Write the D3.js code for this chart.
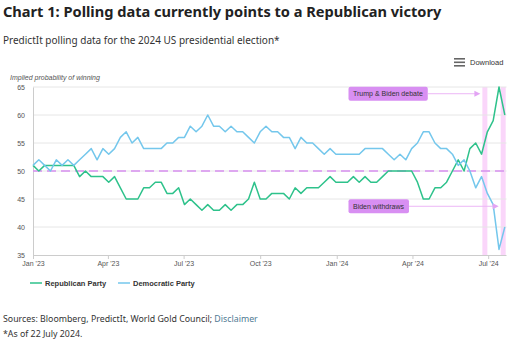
<!DOCTYPE html>
<html>
<head>
<meta charset="utf-8">
<script src="https://cdn.jsdelivr.net/npm/d3@7"></script>
<style>
  html, body { margin: 0; padding: 0; background: #fff; }
  svg { display: block; }
</style>
</head>
<body>
<div id="chart"></div>
<script>
// weekly PredictIt readings, starting first week of Jan 2023
const startDate = "2023-01-01";
const republican = [51,50,51,51,51,51,51,51,49,50, 49,49,49,48,49,47,45,45,45,47,
  47,48,48,46,46,47,44,45,44,43, 44,43,43,44,43,44,44,45,48,45,
  45,46,46,46,45,47,46,47,47,47, 48,49,48,48,48,49,48,49,48,48,
  49,50,50,50,50,50,48,45,45,47, 47,48,50,52,50,54,55,53,57,59, 65,60];
const democratic = [51,52,51,50,52,51,52,51,52,53, 54,52,54,53,54,56,57,55,56,54,
  54,54,54,55,55,56,56,58,57,58, 60,58,58,57,58,57,57,56,55,57,
  58,57,57,56,56,54,56,55,55,54, 53,54,53,53,53,53,53,54,54,54,
  54,53,52,53,52,54,55,57,57,55, 54,54,53,51,52,50,47,49,46,44, 36,40];

const yTicks = [35, 40, 45, 50, 55, 60, 65];
const xTicks = ["2023-01-01", "2023-04-01", "2023-07-01", "2023-10-01", "2024-01-01", "2024-04-01", "2024-07-01"];
const xTickLabels = ["Jan '23", "Apr '23", "Jul '23", "Oct '23", "Jan '24", "Apr '24", "Jul '24"];

const bands = [
  { from: "2024-06-24", to: "2024-06-30", label: "Trump & Biden debate", value: 63.8 },
  { from: "2024-07-16", to: "2024-07-22", label: "Biden withdraws", value: 43.7 },
];

const series = [
  { name: "Republican Party", values: republican, color: "#2ec28b" },
  { name: "Democratic Party", values: democratic, color: "#74c7ec" },
];

const W = 512, H = 344;
const parse = d3.timeParse("%Y-%m-%d");
const start = parse(startDate);
const dates = republican.map((_, i) => d3.timeDay.offset(start, i * 7));

const x = d3.scaleTime().domain([parse("2023-01-01"), parse("2024-07-23")]).range([33, 506.5]);
const y = d3.scaleLinear().domain([35, 65]).range([255, 87]);

const svg = d3.select("#chart").append("svg").attr("width", W).attr("height", H);
const font = "'Liberation Sans', Arial, sans-serif";

// titles
svg.append("text").attr("x", 3).attr("y", 17)
  .attr("font-family", "'Noto Sans', sans-serif").attr("font-weight", "bold")
  .attr("font-size", "14.6px").attr("fill", "#222")
  .text("Chart 1: Polling data currently points to a Republican victory");
svg.append("text").attr("x", 3).attr("y", 43.5)
  .attr("font-family", "'Noto Sans', sans-serif")
  .attr("font-size", "10px").attr("fill", "#333")
  .text("PredictIt polling data for the 2024 US presidential election*");

// download button
const dl = svg.append("g").attr("transform", "translate(454,58)");
[0, 3.5, 7].forEach((dy) => dl.append("rect").attr("x", 0).attr("y", dy).attr("width", 11).attr("height", 1.6).attr("fill", "#666"));
svg.append("text").attr("x", 470).attr("y", 65).attr("font-family", font)
  .attr("font-size", "7.5px").attr("fill", "#333").text("Download");

svg.append("text").attr("x", 10).attr("y", 79.5).attr("font-family", font)
  .attr("font-style", "italic").attr("font-size", "7px").attr("fill", "#555")
  .text("Implied probability of winning");

// bands
svg.append("g").selectAll("rect").data(bands).join("rect")
  .attr("x", (d) => x(parse(d.from)))
  .attr("width", (d) => x(parse(d.to)) - x(parse(d.from)))
  .attr("y", y(65)).attr("height", y(35) - y(65))
  .attr("fill", "#fad6fa");

// grid
svg.append("g").selectAll("line").data(yTicks.filter((d) => d !== 35)).join("line")
  .attr("x1", 33).attr("x2", 506.5)
  .attr("y1", (d) => y(d)).attr("y2", (d) => y(d))
  .attr("stroke", "#e6e6e6").attr("stroke-width", 1);

// axes
svg.append("g").attr("transform", "translate(33,0)")
  .call(d3.axisLeft(y).tickValues(yTicks).tickSize(0).tickPadding(8))
  .call((g) => g.select(".domain").attr("stroke", "#ccc"))
  .call((g) => g.selectAll(".tick text").attr("font-family", font).attr("font-size", "7px").attr("fill", "#555"));

svg.append("g").attr("transform", `translate(0,${y(35)})`)
  .call(d3.axisBottom(x).tickValues(xTicks.map(parse)).tickFormat((d, i) => xTickLabels[i]).tickSize(4).tickPadding(2))
  .call((g) => g.select(".domain").attr("stroke", "#ccc").attr("d", `M33,0.5H506.5`))
  .call((g) => g.selectAll(".tick line").attr("stroke", "#ccc"))
  .call((g) => g.selectAll(".tick text").attr("font-family", font).attr("font-size", "7px").attr("fill", "#555"));

// 50% line
svg.append("line").attr("x1", 33).attr("x2", 506.5)
  .attr("y1", y(50)).attr("y2", y(50))
  .attr("stroke", "#d890f0").attr("stroke-width", 1.5).attr("stroke-dasharray", "9,5");

// series
const line = d3.line().x((d, i) => x(dates[i])).y((d) => y(d));
svg.append("g").selectAll("path").data(series).join("path")
  .attr("d", (d) => line(d.values))
  .attr("fill", "none").attr("stroke", (d) => d.color)
  .attr("stroke-width", 1.5).attr("stroke-linejoin", "round");

// annotations
const ann = svg.append("g").selectAll("g").data(bands).join("g");
ann.each(function (d) {
  const g = d3.select(this);
  const cy = y(d.value);
  const t = g.append("text").attr("font-family", font).attr("font-size", "7px").attr("fill", "#333")
    .attr("x", 353).attr("y", cy + 2.5).text(d.label);
  const tw = t.node().getComputedTextLength();
  const bx0 = 348.5, bx1 = 353 + tw + 5;
  g.insert("rect", "text").attr("x", bx0).attr("y", cy - 7).attr("width", bx1 - bx0).attr("height", 14)
    .attr("rx", 2).attr("fill", "#d88ff2");
  const ax = x(parse(d.from)) - 2;
  g.append("line").attr("x1", bx1).attr("x2", ax - 5).attr("y1", cy).attr("y2", cy)
    .attr("stroke", "#ecb6f6").attr("stroke-width", 1);
  g.append("path").attr("d", `M${ax - 6},${cy - 3}L${ax},${cy}L${ax - 6},${cy + 3}Z`).attr("fill", "#e3a4f4");
});

// legend
const leg = svg.append("g").selectAll("g").data(series).join("g")
  .attr("transform", (d, i) => `translate(${30 + i * 88},283)`);
leg.append("line").attr("x1", 0).attr("x2", 12).attr("stroke", (d) => d.color).attr("stroke-width", 1.5);
leg.append("text").attr("x", 15).attr("y", 2.6).attr("font-family", font).attr("font-weight", "bold")
  .attr("font-size", "7.5px").attr("fill", "#333").text((d) => d.name);

// sources
const src = svg.append("text").attr("x", 3).attr("y", 322)
  .attr("font-family", "'Noto Sans', sans-serif").attr("font-size", "8.8px").attr("fill", "#333");
src.append("tspan").text("Sources: Bloomberg, PredictIt, World Gold Council; ");
src.append("tspan").attr("fill", "#4f7a93").text("Disclaimer");
svg.append("text").attr("x", 3).attr("y", 337)
  .attr("font-family", "'Noto Sans', sans-serif").attr("font-size", "8.8px").attr("fill", "#333")
  .text("*As of 22 July 2024.");
</script>
</body>
</html>
